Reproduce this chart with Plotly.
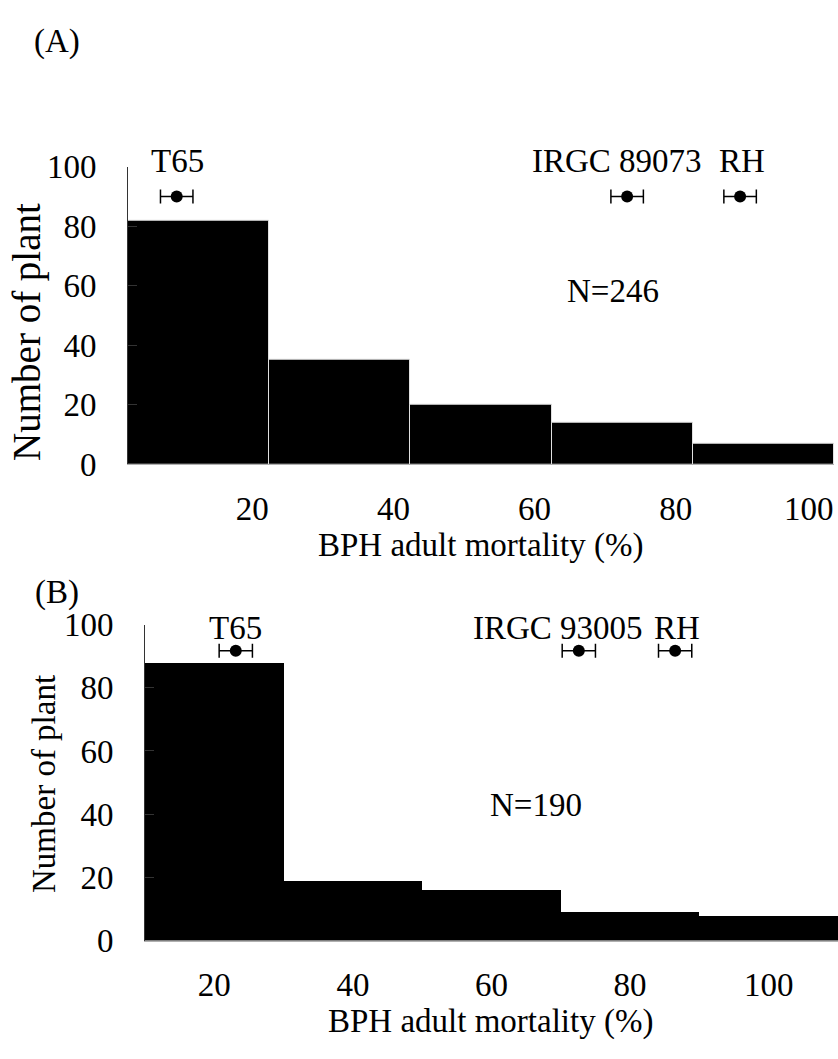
import plotly.graph_objects as go

W, H = 838, 1059

# ---------------- data ----------------
# Panel A
a_bin_centers = [10, 30, 50, 70, 90]
a_counts = [82, 35, 20, 14, 7]
a_tick_vals = [20, 40, 60, 80, 100]
a_tick_text = ["20", "40", "60", "80", "100"]
a_lines = ["T65", "IRGC 89073", "RH"]
a_means = [6.9, 70.7, 86.7]
a_err = [2.3, 2.3, 2.3]
a_label_x = [7.0, 69.3, 87.0]
a_n_label = "N=246"

# Panel B
b_bin_centers = [20, 40, 60, 80, 100]
b_counts = [88, 19, 16, 9, 8]
b_tick_vals = [20, 40, 60, 80, 100]
b_tick_text = ["20", "40", "60", "80", "100"]
b_lines = ["T65", "IRGC 93005", "RH"]
b_means = [23.1, 72.6, 86.5]
b_err = [2.4, 2.4, 2.4]
b_label_x = [23.1, 69.6, 86.8]
b_n_label = "N=190"

y_ticks = [0, 20, 40, 60, 80, 100]

FONT = "Liberation Serif"
FS = 33

def px_x(p):
    return p / W

def px_y(p):
    return 1 - p / H

fig = go.Figure()

# Panel A bars
fig.add_trace(go.Bar(x=a_bin_centers, y=a_counts, width=20,
                     marker=dict(color="black", line=dict(color="#e0e0e0", width=1)),
                     xaxis="x", yaxis="y", showlegend=False))
# Panel A parental markers
fig.add_trace(go.Scatter(x=a_means, y=[90] * len(a_means), mode="markers",
                         marker=dict(color="black", size=12),
                         error_x=dict(type="data", array=a_err, color="black", thickness=1.5, width=7),
                         xaxis="x", yaxis="y", showlegend=False, cliponaxis=False))

# Panel B bars
fig.add_trace(go.Bar(x=b_bin_centers, y=b_counts, width=20,
                     marker=dict(color="black", line=dict(color="black", width=0)),
                     xaxis="x2", yaxis="y2", showlegend=False))
fig.add_trace(go.Scatter(x=b_means, y=[91.7] * len(b_means), mode="markers",
                         marker=dict(color="black", size=12),
                         error_x=dict(type="data", array=b_err, color="black", thickness=1.5, width=7),
                         xaxis="x2", yaxis="y2", showlegend=False, cliponaxis=False))

tickfont = dict(family=FONT, size=FS, color="black")

fig.update_layout(
    width=W, height=H,
    margin=dict(l=0, r=0, t=0, b=0),
    paper_bgcolor="white", plot_bgcolor="white",
    bargap=0,
    font=dict(family=FONT, size=FS, color="black"),
    xaxis=dict(domain=[px_x(128), px_x(834)], range=[0, 100], anchor="y",
               tickvals=a_tick_vals, ticktext=a_tick_text, ticks="",
               ticklabelposition="outside left", ticklabelstandoff=15,
               showline=True, linecolor="#b0b0b0", linewidth=1,
               showgrid=False, zeroline=False, tickfont=tickfont),
    yaxis=dict(domain=[px_y(463), px_y(155)], range=[0, 100], anchor="x",
               tickvals=y_ticks, ticks="inside", ticklen=9, tickcolor="#333",
               ticklabelstandoff=24,
               showline=True, linecolor="#333", linewidth=1,
               showgrid=False, zeroline=False, tickfont=tickfont),
    xaxis2=dict(domain=[px_x(145), 1.0], range=[10, 110], anchor="y2",
                tickvals=b_tick_vals, ticktext=b_tick_text, ticks="",
                ticklabelstandoff=15,
                showline=True, linecolor="#b0b0b0", linewidth=1,
                showgrid=False, zeroline=False, tickfont=tickfont),
    yaxis2=dict(domain=[px_y(956), px_y(629)], range=[0, 100], anchor="x2",
                tickvals=y_ticks, ticks="inside", ticklen=9, tickcolor="#333",
                ticklabelstandoff=24,
                showline=True, linecolor="#333", linewidth=1,
                showgrid=False, zeroline=False, tickfont=tickfont),
)

ann = []

def paper_text(text, x, y, size=FS, angle=0):
    ann.append(dict(text=text, x=px_x(x), y=px_y(y), xref="paper", yref="paper",
                    xanchor="center", yanchor="middle", textangle=angle,
                    showarrow=False, font=dict(size=size)))

# panel letters
paper_text("(A)", 57, 25)
paper_text("(B)", 57, 596)
# axis titles
paper_text("BPH adult mortality (%)", 480, 547)
paper_text("BPH adult mortality (%)", 490, 1040)
paper_text("Number of plant", 27, 326, size=39, angle=-90)
paper_text("Number of plant", 44, 794, size=33, angle=-90)

# line labels panel A (above the plot area -> paper y, data x)
for name, lx in zip(a_lines, a_label_x):
    ann.append(dict(text=name, x=lx, y=px_y(149), xref="x", yref="paper",
                    xanchor="center", yanchor="middle", showarrow=False,
                    font=dict(size=FS)))
ann.append(dict(text=a_n_label, x=68.7, y=58.4, xref="x", yref="y",
                xanchor="center", yanchor="middle", showarrow=False,
                font=dict(size=FS)))
# line labels panel B
for name, lx in zip(b_lines, b_label_x):
    ann.append(dict(text=name, x=lx, y=px_y(632), xref="x2", yref="paper",
                    xanchor="center", yanchor="middle", showarrow=False,
                    font=dict(size=FS)))
ann.append(dict(text=b_n_label, x=66.4, y=43, xref="x2", yref="y2",
                xanchor="center", yanchor="middle", showarrow=False,
                font=dict(size=FS)))

fig.update_layout(annotations=ann)

fig.write_html("out.html")
